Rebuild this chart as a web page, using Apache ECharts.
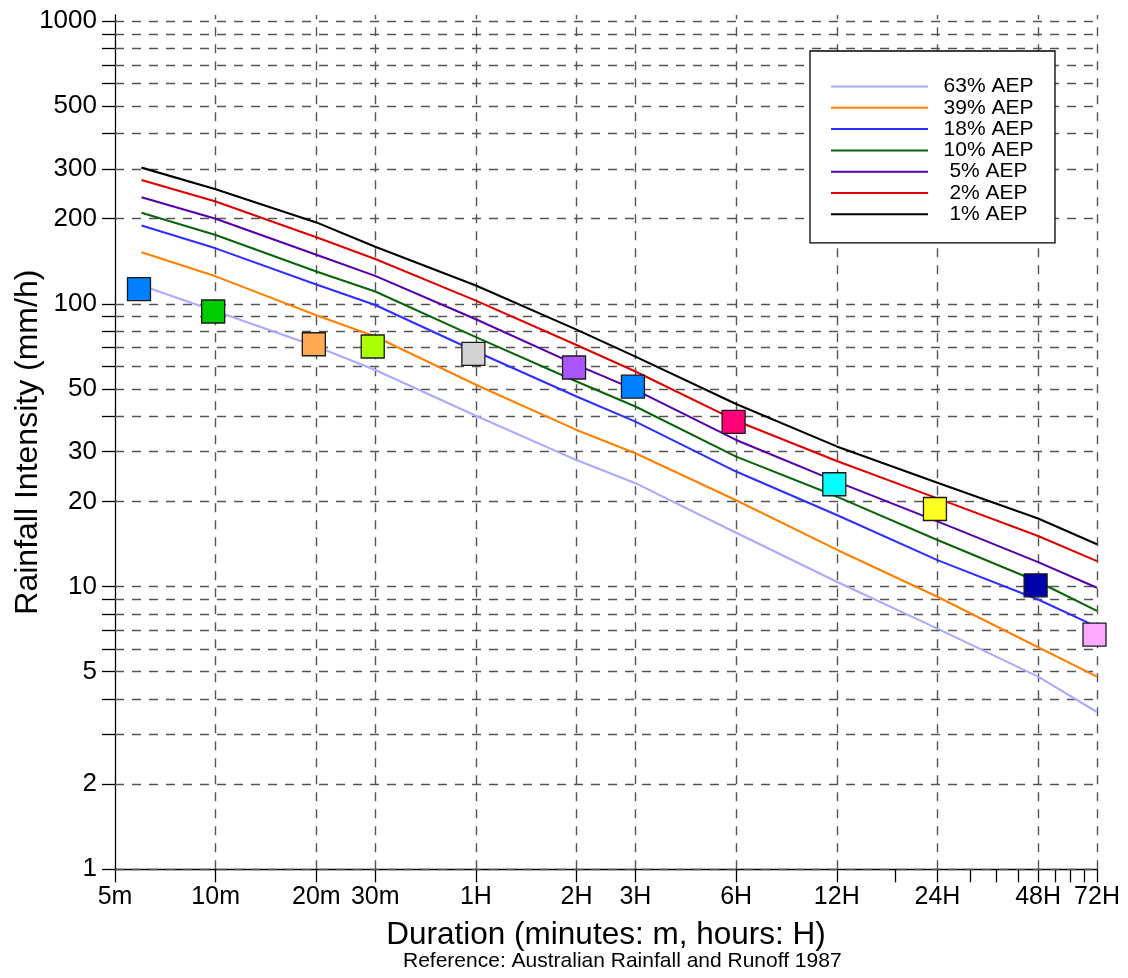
<!DOCTYPE html>
<html>
<head>
<meta charset="utf-8">
<script src="https://cdn.jsdelivr.net/npm/echarts@6/dist/echarts.min.js"></script>
<style>
html,body{margin:0;padding:0;background:#fff}
#chart{width:1128px;height:978px}
</style>
</head>
<body>
<div id="chart"></div>
<script>
// ---- data (durations in minutes, intensities in mm/h) ----
const durations = [6, 10, 20, 30, 60, 120, 180, 360, 720, 1440, 2880, 4320];
const aepNames = ['63% AEP', '39% AEP', '18% AEP', '10% AEP', '5% AEP', '2% AEP', '1% AEP'];
const aep63 = [116, 94, 70.6, 58.3, 40.2, 28.0, 23.2, 15.5, 10.4, 7.1, 4.8, 3.6];
const aep39 = [152, 125, 91, 76.6, 51.7, 35.8, 29.6, 20.2, 13.5, 9.2, 6.1, 4.8];
const aep18 = [189, 157, 117, 99, 67.8, 47.0, 38.3, 25.5, 17.9, 12.4, 9.0, 7.2];
const aep10 = [210, 175, 130, 110.5, 76.2, 53.1, 43.3, 28.8, 20.8, 14.6, 10.4, 8.2];
const aep5 = [238, 200, 149, 125.5, 88.2, 60.8, 49.6, 33.0, 23.5, 17.0, 12.2, 9.9];
const aep2 = [274, 230, 172, 144, 102.6, 71.5, 57.6, 38.6, 27.8, 20.5, 15.1, 12.3];
const aep1 = [303, 254, 194, 159, 116, 81, 65, 44.2, 31.3, 23.3, 17.4, 14.1];

const obsDurations = [6, 10, 20, 30, 60, 120, 180, 360, 720, 1440, 2880, 4320];
const obsIntensity = [112.6, 93.9, 71.9, 70.6, 66.5, 59.5, 50.9, 38.2, 23.0, 18.8, 10.1, 6.76];

// ---- tick labels ----
const xLabelValues = [5, 10, 20, 30, 60, 120, 180, 360, 720, 1440, 2880, 4320];
const xLabelTexts = ['5m', '10m', '20m', '30m', '1H', '2H', '3H', '6H', '12H', '24H', '48H', '72H'];
const xExtraTickValues = [1080, 1800, 2160, 2520, 3240, 3600, 3960];
const yLabelValues = [1, 2, 5, 10, 20, 30, 50, 100, 200, 300, 500, 1000];
const yGridValues = [1, 2, 3, 4, 5, 6, 7, 8, 9, 10, 20, 30, 40, 50, 60, 70, 80, 90,
  100, 200, 300, 400, 500, 600, 700, 800, 900, 1000];

// ---- styles ----
const lineColors = ['#aaaaff', '#ff8000', '#2f2fff', '#0a640a', '#5500aa', '#dd0000', '#000000'];
const obsColors = ['#0080ff', '#00cc00', '#ffaa55', '#aaff00', '#d3d3d3', '#aa55ff',
  '#0080ff', '#ff0077', '#00ffff', '#ffff22', '#0000aa', '#ffaaff'];
const FONT = '"Liberation Sans", Arial, Helvetica, sans-serif';

const aepValues = [aep63, aep39, aep18, aep10, aep5, aep2, aep1];

function xLabel(v) {
  let best = 0, bd = Infinity;
  xLabelValues.forEach((xv, i) => {
    const d = Math.abs(Math.log(v) - Math.log(xv));
    if (d < bd) { bd = d; best = i; }
  });
  return xLabelTexts[best];
}

const lineSeries = aepNames.map((name, k) => ({
  name: name,
  type: 'line',
  symbol: 'none',
  z: 3,
  lineStyle: { color: lineColors[k], width: 2.1 },
  itemStyle: { color: lineColors[k] },
  data: durations.map((d, i) => [d, aepValues[k][i]])
}));

const gridStyle = { type: [9, 8], color: '#555555', width: 1.4 };

const option = {
  animation: false,
  backgroundColor: '#ffffff',
  textStyle: { fontFamily: FONT },
  grid: { left: 115, right: 31, top: 15, bottom: 108.7, containLabel: false, outerBoundsMode: 'none' },
  title: {
    text: 'Reference: Australian Rainfall and Runoff 1987',
    left: 403, top: 951, padding: 0,
    textStyle: { fontFamily: FONT, fontSize: 21, fontWeight: 'normal', color: '#000' }
  },
  legend: {
    data: aepNames,
    orient: 'vertical',
    left: 810, top: 51,
    padding: [25, 11, 18, 20],
    backgroundColor: '#ffffff',
    borderColor: '#000000',
    borderWidth: 1.3,
    itemWidth: 97,
    itemHeight: 14,
    itemGap: 0.3,
    selectedMode: false,
    itemStyle: { opacity: 0 },
    formatter: '{t|{name}}',
    textStyle: {
      fontFamily: FONT, fontSize: 21, color: '#000', lineHeight: 21,
      rich: { t: { width: 111, align: 'center', fontSize: 21, fontFamily: FONT, lineHeight: 21 } }
    }
  },
  xAxis: {
    type: 'log',
    logBase: 10,
    min: 5,
    max: 4320,
    name: 'Duration (minutes: m, hours: H)',
    nameLocation: 'middle',
    nameGap: 50,
    nameTextStyle: { fontFamily: FONT, fontSize: 31.5, color: '#000' },
    axisLine: { show: true, lineStyle: { color: '#000', width: 1.3 } },
    axisTick: {
      show: true, inside: false, length: 13,
      lineStyle: { color: '#000', width: 1.3 },
      customValues: xLabelValues.concat(xExtraTickValues)
    },
    axisLabel: {
      show: true, margin: 15, color: '#000', fontFamily: FONT, fontSize: 25,
      hideOverlap: false, showMinLabel: true, showMaxLabel: true,
      customValues: xLabelValues,
      formatter: xLabel
    },
    splitLine: { show: false },
    minorTick: { show: false },
    minorSplitLine: { show: false }
  },
  yAxis: {
    type: 'log',
    logBase: 10,
    min: 1,
    max: 1050,
    name: 'Rainfall Intensity (mm/h)',
    nameLocation: 'middle',
    nameGap: 71,
    nameMoveOverlap: false,
    nameTextStyle: { fontFamily: FONT, fontSize: 32, color: '#000' },
    axisLine: { show: true, lineStyle: { color: '#000', width: 1.3 } },
    axisTick: {
      show: true, inside: false, length: 13,
      lineStyle: { color: '#000', width: 1.3 },
      customValues: yGridValues
    },
    axisLabel: {
      show: true, margin: 18, color: '#000', fontFamily: FONT, fontSize: 26,
      hideOverlap: false, showMinLabel: true, showMaxLabel: true,
      customValues: yLabelValues,
      formatter: v => String(Math.round(v))
    },
    splitLine: { show: false },
    minorTick: { show: false },
    minorSplitLine: { show: false }
  },
  series: [
    {
      name: 'grid',
      type: 'line',
      data: [],
      silent: true,
      z: 1,
      markLine: {
        silent: true,
        z: 1,
        symbol: ['none', 'none'],
        label: { show: false },
        emphasis: { disabled: true },
        lineStyle: gridStyle,
        data: yGridValues.map(v => ({ yAxis: v }))
          .concat(xLabelValues.slice(1).map(v => ({ xAxis: v })))
      }
    }
  ].concat(lineSeries).concat([
    {
      name: 'observed',
      type: 'scatter',
      symbol: 'rect',
      symbolSize: 23,
      symbolOffset: [-2.5, 0],
      z: 4,
      itemStyle: { borderColor: '#1a1a1a', borderWidth: 1.3, opacity: 1 },
      data: obsDurations.map((d, i) => ({
        value: [d, obsIntensity[i]],
        itemStyle: { color: obsColors[i] }
      }))
    }
  ])
};

const chart = echarts.init(document.getElementById('chart'), null, { renderer: 'canvas' });
chart.setOption(option);
</script>
</body>
</html>
